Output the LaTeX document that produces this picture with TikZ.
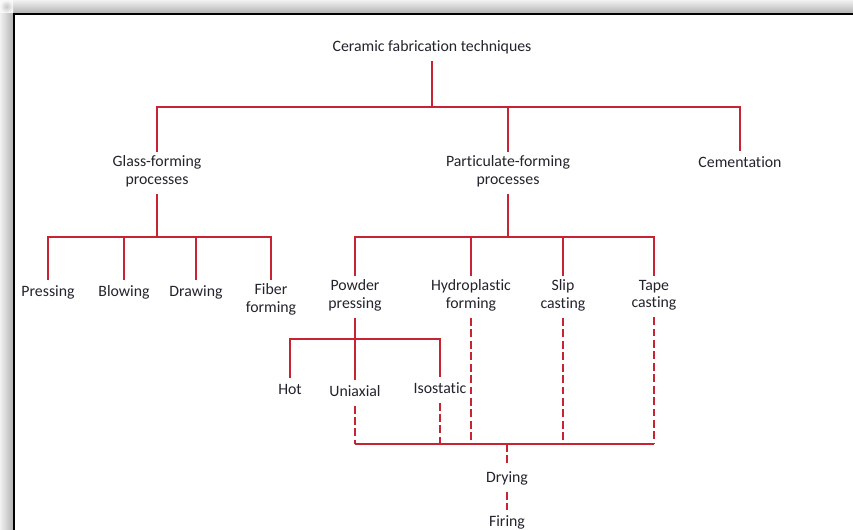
\documentclass[tikz,border=0pt]{standalone}
\usepackage{fontspec}
\setmainfont{Carlito}[Ligatures=NoCommon]
\usetikzlibrary{positioning}
\definecolor{treered}{RGB}{200,35,50}
\definecolor{labelgray}{RGB}{35,35,45}
\tikzset{
  lbl/.style={align=center, inner sep=2pt, text=labelgray, font=\fontsize{9}{10.2}\selectfont,
    execute at begin node=\strut, execute at end node=\strut},
  link/.style={treered, line width=1pt},
  dlink/.style={link, dash pattern=on 4.5pt off 2pt},
}

\begin{document}
\begin{tikzpicture}[x=0.02cm,y=-0.02cm]
	\useasboundingbox (0,0) rectangle (853,530);
	\fill[white] (0,0) rectangle (853,530);
	\shade[left color=gray!10, right color=gray!60] (0,13) rectangle (13,530);
	\shade[top color=gray!10, bottom color=gray!60] (13,0) rectangle (853,13);
	\shade[inner color=gray!45, outer color=gray!5] (0,0) rectangle (13,13);
	\draw[line width=1.6pt, line cap=rect] (14,530) -- (14,14) -- (853,14);
	
	\node[lbl] (root) at (432,48) {Ceramic fabrication techniques};
	\node[lbl] (glass) at (157,173) {Glass-forming\\processes};
	\node[lbl] (part) at (508,173) {Particulate-forming\\processes};
	\node[lbl] (cem) at (740,164) {Cementation};
	
	\node[lbl, anchor=north] (pressing) at (48,280) {Pressing};
	\node[lbl, anchor=north] (blowing) at (124,280) {Blowing};
	\node[lbl, anchor=north] (drawing) at (196,280) {Drawing};
	\node[lbl, anchor=north] (fiber) at (271,280) {Fiber\\forming};
	
	\node[lbl, anchor=north] (powder) at (355,276) {Powder\\pressing};
	\node[lbl, anchor=north] (hydro) at (471,276) {Hydroplastic\\forming};
	\node[lbl, anchor=north] (slip) at (563,276) {Slip\\casting};
	\node[lbl, anchor=north] (tape) at (654,276) {Tape\\casting};
	
	\node[lbl, anchor=north] (hot) at (290,378) {Hot};
	\node[lbl, anchor=north] (uni) at (355,380) {Uniaxial};
	\node[lbl, anchor=north] (iso) at (440,377) {Isostatic};
	
	\node[lbl] (drying) at (507,479) {Drying};
	\node[lbl] (firing) at (507,523) {Firing};
	
	\coordinate (topbus) at (432,107);
	\coordinate (gbus) at (157,237);
	\coordinate (pbus) at (508,237);
	\coordinate (ppbus) at (355,339);
	\coordinate (dbus) at (507,444);
	
	\draw[link] (root.south) -- (topbus);
	\draw[link] (glass.north) |- (topbus) -| (cem.north);
	\draw[link] (part.north) -- (part.north |- topbus);
	
	\draw[link] (glass.south) -- (gbus);
	\draw[link] (pressing.north) |- (gbus) -| (fiber.north);
	\foreach \n in {blowing,drawing}
	\draw[link] (\n.north) -- (\n.north |- gbus);
	
	\draw[link] (part.south) -- (pbus);
	\draw[link] (powder.north) |- (pbus) -| (tape.north);
	\foreach \n in {hydro,slip}
	\draw[link] (\n.north) -- (\n.north |- pbus);
	
	\draw[link] (powder.south) -- (uni.north);
	\draw[link] (hot.north) |- (ppbus) -| (iso.north);
	
	\foreach \n in {uni,iso,hydro,slip,tape}
	\draw[dlink] (\n.south) -- (\n.south |- dbus);
	\draw[link] (uni.south |- dbus) -- (tape.south |- dbus);
	\draw[dlink] (dbus) -- (drying.north);
	\draw[dlink] (drying.south) -- (firing.north);
\end{tikzpicture}
\end{document}
